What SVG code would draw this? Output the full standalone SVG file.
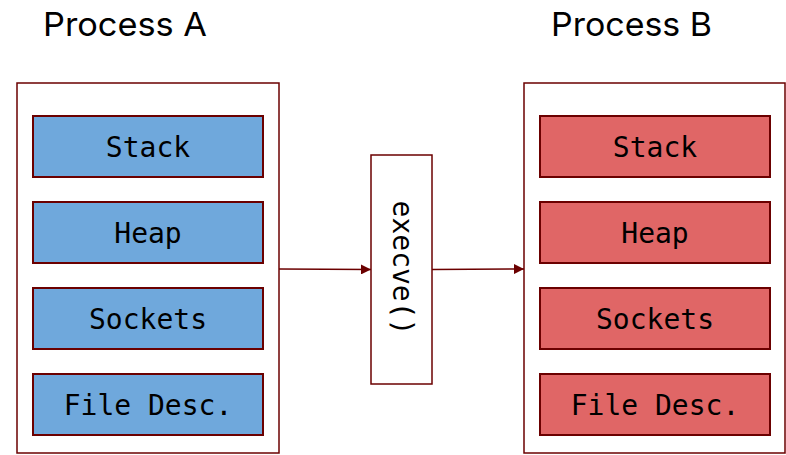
<svg xmlns="http://www.w3.org/2000/svg" width="786" height="455" viewBox="0 0 786 455">
  <defs>
    <marker id="arrow" viewBox="0 0 10 10" refX="10" refY="5" markerWidth="10" markerHeight="10" markerUnits="userSpaceOnUse" orient="auto">
      <path d="M0,0 L10,5 L0,10 z" fill="#6b0000"/>
    </marker>
    <style>
      .title { font-family: Inter, "Open Sans", sans-serif; font-weight: 400; font-size: 33px; fill: #000; }
      .outer { fill: #fff; stroke: #6b0000; stroke-width: 1.5; }
      .seg-a { fill: #6fa8dc; stroke: #6b0000; stroke-width: 2; }
      .seg-b { fill: #e06666; stroke: #6b0000; stroke-width: 2; }
      .mono { font-family: "DejaVu Sans Mono", "Liberation Mono", monospace; font-size: 28px; fill: #000; text-anchor: middle; dominant-baseline: central; }
      .edge { stroke: #6b0000; stroke-width: 1.5; fill: none; marker-end: url(#arrow); }
    </style>
  </defs>
  <rect width="786" height="455" fill="#fff"/>

  <text class="title" x="43" y="36" textLength="164" lengthAdjust="spacingAndGlyphs">Process A</text>
  <text class="title" x="551" y="36" textLength="161" lengthAdjust="spacingAndGlyphs">Process B</text>

  <g id="process-a">
    <rect class="outer" x="17" y="83" width="262" height="370"/>
    <g id="a-stack"><rect class="seg-a" x="33" y="116" width="230" height="61"/><text class="mono" x="148" y="147">Stack</text></g>
    <g id="a-heap"><rect class="seg-a" x="33" y="202" width="230" height="61"/><text class="mono" x="148" y="233">Heap</text></g>
    <g id="a-sockets"><rect class="seg-a" x="33" y="288" width="230" height="61"/><text class="mono" x="148" y="319">Sockets</text></g>
    <g id="a-fd"><rect class="seg-a" x="33" y="374" width="230" height="61"/><text class="mono" x="148" y="405">File Desc.</text></g>
  </g>

  <g id="execve">
    <rect class="outer" x="371" y="155" width="61" height="229"/>
    <text class="mono" transform="translate(402 268) rotate(90)">execve()</text>
  </g>

  <g id="process-b">
    <rect class="outer" x="524" y="83" width="261" height="370"/>
    <g id="b-stack"><rect class="seg-b" x="540" y="116" width="230" height="61"/><text class="mono" x="655" y="147">Stack</text></g>
    <g id="b-heap"><rect class="seg-b" x="540" y="202" width="230" height="61"/><text class="mono" x="655" y="233">Heap</text></g>
    <g id="b-sockets"><rect class="seg-b" x="540" y="288" width="230" height="61"/><text class="mono" x="655" y="319">Sockets</text></g>
    <g id="b-fd"><rect class="seg-b" x="540" y="374" width="230" height="61"/><text class="mono" x="655" y="405">File Desc.</text></g>
  </g>

  <g id="connectors">
    <line class="edge" x1="279" y1="269" x2="371" y2="269.5"/>
    <line class="edge" x1="432" y1="269.5" x2="524" y2="269"/>
  </g>
</svg>
